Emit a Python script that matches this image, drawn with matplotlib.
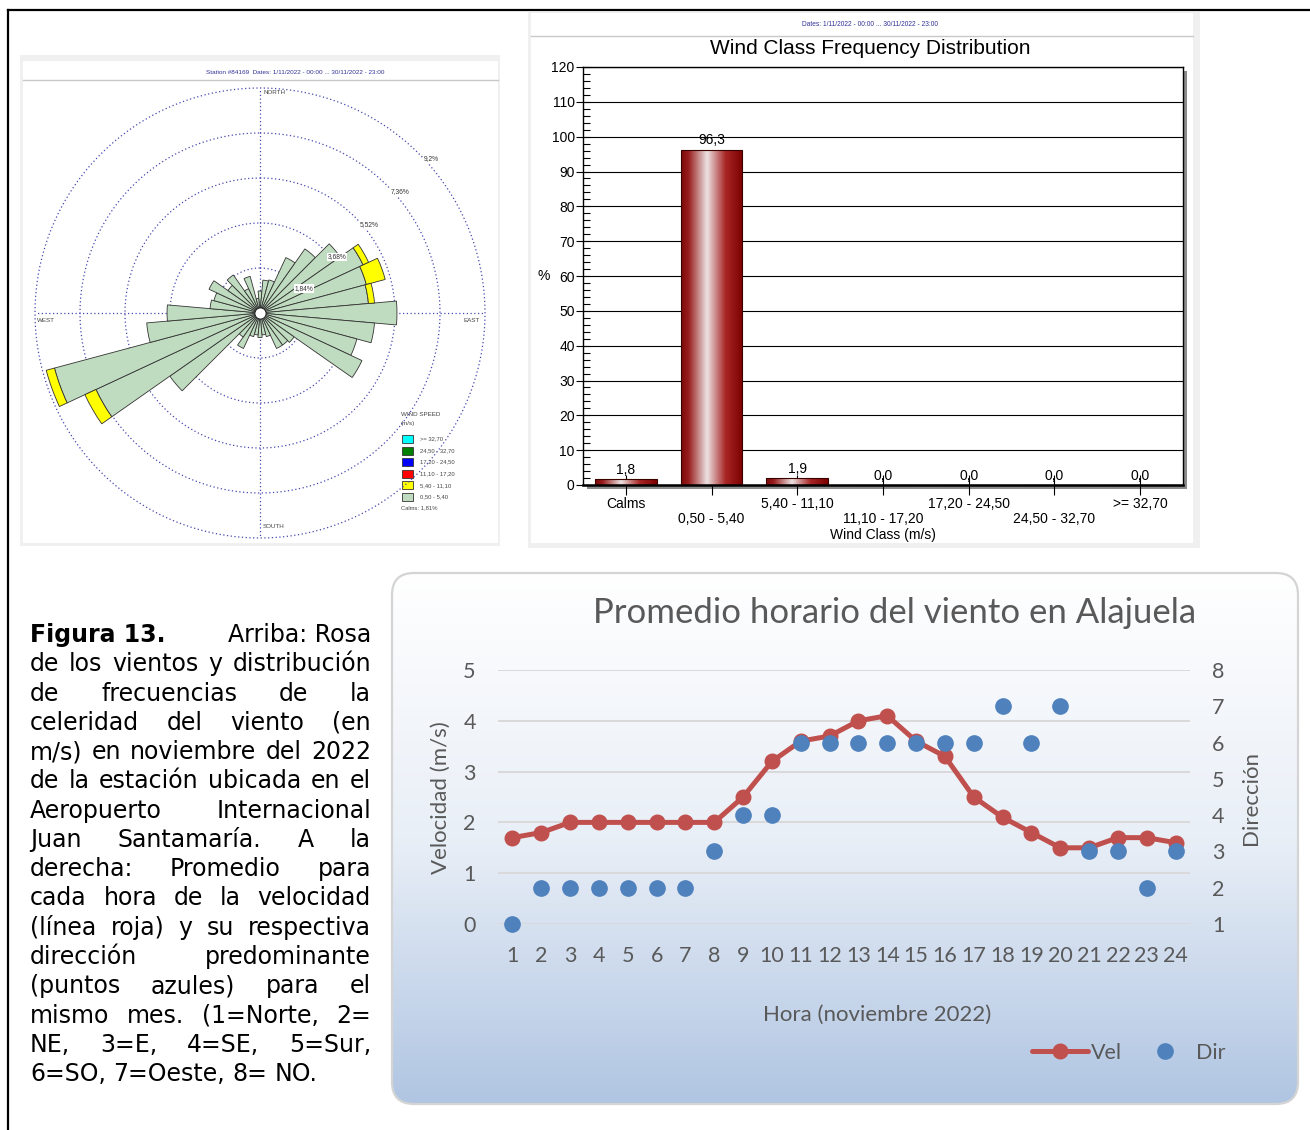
import numpy as np
import matplotlib
matplotlib.use("Agg")
import matplotlib.pyplot as plt
from matplotlib.patches import Rectangle, FancyBboxPatch
from matplotlib.colors import LinearSegmentedColormap
from matplotlib.ticker import MultipleLocator

# ---------------- data ----------------
# wind rose (percent of time per 10-degree sector)
rose_dir = np.arange(0, 360, 10)
rose_low = [0.9, 1.35, 1.4, 2.5, 3.2, 4.0, 4.65, 4.5, 4.45, 5.6, 4.7, 4.1,
            4.6, 1.7, 1.6, 1.6, 1.0, 0.9, 1.0, 0.9, 1.0, 1.6, 1.2, 4.5,
            7.4, 8.7, 4.65, 3.8, 2.05, 1.95, 2.3, 1.6, 1.9, 1.1, 1.55, 0.6]
rose_mid = [0, 0, 0, 0, 0, 0, 0.25, 0.8, 0.25, 0, 0, 0,
            0, 0, 0, 0, 0, 0, 0, 0, 0, 0, 0, 0,
            0.5, 0.35, 0, 0, 0, 0, 0, 0, 0, 0, 0, 0]
rose_rings = [1.84, 3.68, 5.52, 7.36, 9.2]
speed_classes = [">= 32,70", "24,50 - 32,70", "17,20 - 24,50",
                 "11,10 - 17,20", "5,40 - 11,10", "0,50 - 5,40"]
speed_colors = ["#00ffff", "#008000", "#0000ff", "#ff0000", "#ffff00", "#c0dcc0"]
calms_pct = "1,81%"

# wind class frequency distribution
wind_classes = ["Calms", "0,50 - 5,40", "5,40 - 11,10", "11,10 - 17,20",
                "17,20 - 24,50", "24,50 - 32,70", ">= 32,70"]
class_freq = [1.8, 96.3, 1.9, 0.0, 0.0, 0.0, 0.0]

# hourly averages
hours = list(range(1, 25))
vel = [1.7, 1.8, 2.0, 2.0, 2.0, 2.0, 2.0, 2.0, 2.5, 3.2, 3.6, 3.7,
       4.0, 4.1, 3.6, 3.3, 2.5, 2.1, 1.8, 1.5, 1.5, 1.7, 1.7, 1.6]
direc = [1, 2, 2, 2, 2, 2, 2, 3, 4, 4, 6, 6,
         6, 6, 6, 6, 6, 7, 6, 7, 3, 3, 2, 3]

caption = [
    [("Figura 13.", "bold"), ("Arriba: Rosa", "normal")],
    "de los vientos y distribución",
    "de frecuencias de la",
    "celeridad del viento (en",
    "m/s) en noviembre del 2022",
    "de la estación ubicada en el",
    "Aeropuerto Internacional",
    "Juan Santamaría. A la",
    "derecha: Promedio para",
    "cada hora de la velocidad",
    "(línea roja) y su respectiva",
    "dirección predominante",
    "(puntos azules) para el",
    "mismo mes. (1=Norte, 2=",
    "NE, 3=E, 4=SE, 5=Sur,",
    "6=SO, 7=Oeste, 8= NO.",
]

# ---------------- figure ----------------
W, H = 1310, 1130
fig = plt.figure(figsize=(W / 100, H / 100), dpi=100, facecolor="white")
bg = fig.add_axes([0, 0, 1, 1], zorder=0)
bg.set_xlim(0, W)
bg.set_ylim(H, 0)
bg.axis("off")


def fax(x0, y0, x1, y1):
    return [x0 / W, 1 - y1 / H, (x1 - x0) / W, (y1 - y0) / H]


ARIAL = "Liberation Sans"
LATO = "Lato"

# outer frame
bg.plot([8, W], [10, 10], color="black", lw=1.6)
bg.plot([8, 8], [10, H], color="black", lw=1.6)

# ---------------- wind rose panel ----------------
bg.add_patch(Rectangle((20, 55), 480, 491, fc="#f0f0f0", ec="none"))
bg.add_patch(Rectangle((23, 61), 475, 482, fc="white", ec="none"))
bg.plot([23, 498], [80, 80], color="#c8c8c8", lw=1)
bg.text(295, 72, "Station #84169  Dates: 1/11/2022 - 00:00 ... 30/11/2022 - 23:00",
        fontsize=4.6, color="#333399", ha="center", va="center", family=ARIAL)
lab_kw = dict(fontsize=4.5, color="#444444", va="center", family=ARIAL)
bg.text(263, 93, "NORTH", ha="left", **lab_kw)
bg.text(263, 526, "SOUTH", ha="left", **lab_kw)
bg.text(37, 321, "WEST", ha="left", **lab_kw)
bg.text(464, 321, "EAST", ha="left", **lab_kw)

rax = fig.add_axes(fax(260 - 225, 313 - 225, 260 + 225, 313 + 225),
                   projection="polar", zorder=2)
rax.set_facecolor("none")
rax.set_theta_zero_location("N")
rax.set_theta_direction(-1)
rax.set_ylim(0, max(rose_rings))
rax.grid(False)
rax.set_xticks([])
rax.set_yticks([])
rax.spines["polar"].set_visible(False)
dot = dict(ls=(0, (1, 2)), color="#4848b0", lw=0.9, clip_on=False, zorder=1)
th = np.linspace(0, 2 * np.pi, 721)
for r in rose_rings:
    rax.plot(th, np.full_like(th, r), **dot)
for a in [0, 90, 180, 270]:
    rax.plot([np.deg2rad(a)] * 2, [0, max(rose_rings)], **dot)

theta = np.deg2rad(rose_dir)
wdt = np.deg2rad(10)
low = np.array(rose_low)
mid = np.array(rose_mid)
rax.bar(theta, low, width=wdt, bottom=0, color=speed_colors[5],
        edgecolor="#333333", lw=0.6, zorder=3)
m = mid > 0
rax.bar(theta[m], mid[m], width=wdt, bottom=low[m], color=speed_colors[4],
        edgecolor="#333333", lw=0.6, zorder=3)
rax.plot([0], [0], "o", ms=8, mfc="white", mec="#222222", mew=0.7, zorder=6)

ring_lab_ang = [61, 54, 51, 49, 48]
for r, a in zip(rose_rings, ring_lab_ang):
    rax.text(np.deg2rad(a), r + 0.22, str(r).replace(".", ",") + "%",
             fontsize=4.8, color="#333333", ha="center", va="center", family=ARIAL,
             zorder=7, bbox=dict(fc="white", ec="none", pad=0.6))

# rose legend
bg.text(401, 414, "WIND SPEED", fontsize=4.5, color="#444444", ha="left",
        va="center", family=ARIAL)
bg.text(401, 423, "(m/s)", fontsize=4.5, color="#444444", ha="left",
        va="center", family=ARIAL)
for i, (lab, col) in enumerate(zip(speed_classes, speed_colors)):
    yy = 439 + i * 11.6
    bg.add_patch(Rectangle((402, yy - 4), 11, 8, fc=col, ec="#333333", lw=0.6))
    bg.text(420, yy, lab, fontsize=4.2, color="#444444", ha="left", va="center",
            family=ARIAL)
bg.text(401, 508, "Calms: " + calms_pct, fontsize=4.2, color="#444444",
        ha="left", va="center", family=ARIAL)

# ---------------- wind class bar chart ----------------
bg.add_patch(Rectangle((528, 12), 672, 536, fc="#f0f0f0", ec="none"))
bg.add_patch(Rectangle((531, 13), 662, 530, fc="white", ec="none"))
bg.plot([531, 1193], [36, 36], color="#c8c8c8", lw=1)
bg.text(870, 24, "Dates: 1/11/2022 - 00:00 ... 30/11/2022 - 23:00",
        fontsize=4.8, color="#333399", ha="center", va="center", family=ARIAL)
bg.text(870, 49, "Wind Class Frequency Distribution", fontsize=15,
        color="black", ha="center", va="center", family=ARIAL)
bg.text(544, 276, "%", fontsize=10, ha="center", va="center", family=ARIAL)
bg.add_patch(Rectangle((587, 71), 600, 418, fc="#8c8c8c", ec="none"))

bax = fig.add_axes(fax(583, 67, 1183, 485), zorder=2)
bax.set_facecolor("white")
xs = np.arange(len(wind_classes))
bars = bax.bar(xs, class_freq, width=0.72, facecolor="none",
               edgecolor="#3a0000", lw=0.8, zorder=3)
gcmap = LinearSegmentedColormap.from_list(
    "cyl", [(0, "#7c0a0a"), (0.12, "#981c1c"), (0.42, "#ece2e2"),
            (0.72, "#a82626"), (1.0, "#7c0000")])
grad = np.linspace(0, 1, 256).reshape(1, -1)
for b in bars:
    if b.get_height() <= 0:
        continue
    x0, y0 = b.get_xy()
    im = bax.imshow(grad, extent=[x0, x0 + b.get_width(), y0, y0 + b.get_height()],
                    aspect="auto", cmap=gcmap, zorder=2, interpolation="bilinear")
    im.set_clip_path(b)
bax.set_xlim(-0.5, len(wind_classes) - 0.5)
bax.set_ylim(0, 120)
bax.set_axisbelow(True)
bax.yaxis.grid(True, which="major", color="black", lw=0.8)
for v, x in zip(class_freq, xs):
    bax.text(x, v + 0.6, f"{v:.1f}".replace(".", ","), ha="center", va="bottom",
             fontsize=10, family=ARIAL, zorder=5)
bax.set_yticks(range(0, 121, 10))
bax.yaxis.set_minor_locator(MultipleLocator(2))
bax.tick_params(axis="y", which="major", direction="inout", length=10, width=0.8,
                labelsize=10, pad=1)
bax.tick_params(axis="y", which="minor", direction="in", length=5, width=0.8)
bax.set_xticks(xs)
bax.set_xticklabels([("" if i % 2 == 0 else "\n") + c for i, c in enumerate(wind_classes)],
                    linespacing=1.05)
bax.tick_params(axis="x", direction="inout", length=14, width=0.8, labelsize=10, pad=2)
for t in bax.get_xticklabels() + bax.get_yticklabels():
    t.set_family(ARIAL)
bax.set_xlabel("Wind Class (m/s)", fontsize=10, family=ARIAL, labelpad=1.5)
for s in bax.spines.values():
    s.set_color("black")
    s.set_linewidth(1)
bax.spines["bottom"].set_linewidth(1.8)

# ---------------- hourly chart ----------------
box = FancyBboxPatch((392, 573), 906, 531, boxstyle="round,pad=0,rounding_size=22",
                     fc="none", ec="#d4d4d4", lw=1.6, zorder=3)
bg.add_patch(box)
tt = np.linspace(0, 1, 300)
c_top = np.array([255, 255, 255]) / 255
c_mid = np.array([233, 239, 247]) / 255
c_bot = np.array([176, 197, 226]) / 255
col = np.where(tt[:, None] < 0.5,
               c_top + (c_mid - c_top) * (tt[:, None] / 0.5),
               c_mid + (c_bot - c_mid) * ((tt[:, None] - 0.5) / 0.5))
gimg = np.repeat(col[:, None, :], 2, axis=1)
gim = bg.imshow(gimg, extent=[392, 1298, 1104, 573], aspect="auto", zorder=2,
                interpolation="bilinear")
gim.set_clip_path(box)
bg.set_xlim(0, W)
bg.set_ylim(H, 0)

GRAY = "#595959"
bg.text(895, 613, "Promedio horario del viento en Alajuela", fontsize=25,
        color=GRAY, ha="center", va="center", family=LATO, zorder=4)
bg.text(441, 798, "Velocidad (m/s)", fontsize=16, rotation=90, color=GRAY,
        ha="center", va="center", family=LATO, zorder=4)
bg.text(1251, 798, "Dirección", fontsize=16, rotation=90, color=GRAY,
        ha="center", va="center", family=LATO, zorder=4)
bg.text(877, 1015, "Hora (noviembre 2022)", fontsize=16, color=GRAY,
        ha="center", va="center", family=LATO, zorder=4)

cax = fig.add_axes(fax(498, 670, 1190, 924), zorder=3)
cax.set_facecolor("none")
vline, = cax.plot(hours, vel, color="#c0504d", lw=3.6, marker="o", ms=10.5,
                  zorder=3, clip_on=False, solid_capstyle="round")
cax.set_xlim(0.5, 24.5)
cax.set_ylim(0, 5)
cax.set_yticks(range(0, 6))
cax.set_xticks(hours)
cax.yaxis.grid(True, color="#d9d9d9", lw=1.4)
cax.set_axisbelow(True)
for s in cax.spines.values():
    s.set_visible(False)
cax.tick_params(length=0, labelsize=15.5, labelcolor=GRAY)
cax.tick_params(axis="y", pad=16)
cax.tick_params(axis="x", pad=16)

dax = cax.twinx()
dax.set_zorder(4)
dline, = dax.plot(hours, direc, ls="none", marker="o", ms=11, color="#4f81bd",
                  clip_on=False)
dax.set_ylim(1, 8)
dax.set_yticks(range(1, 9))
for s in dax.spines.values():
    s.set_visible(False)
dax.tick_params(length=0, labelsize=15.5, labelcolor=GRAY, pad=16)
for t in cax.get_xticklabels() + cax.get_yticklabels() + dax.get_yticklabels():
    t.set_family(LATO)

fig.legend(handles=[vline, dline], labels=["Vel", "Dir"], loc="center",
           bbox_to_anchor=(1129 / W, 1 - 1053 / H), ncol=2, frameon=False,
           prop=dict(family=LATO, size=15.5), labelcolor=GRAY, handlelength=2.6,
           handletextpad=0.15, columnspacing=0.7)

# ---------------- caption (justified) ----------------
renderer = fig.canvas.get_renderer()
cx0, cx1 = 30, 371
base0, dy = 642, 29.27
CAP_FS = 17
for i, line in enumerate(caption):
    if isinstance(line, str):
        toks = [(w, "normal") for w in line.split()]
    else:
        toks = line
    y = base0 + i * dy
    texts = [bg.text(0, y, w, fontsize=CAP_FS, fontweight=wt, family="DejaVu Sans",
                     ha="left", va="baseline", color="black", zorder=4)
             for w, wt in toks]
    widths = [t.get_window_extent(renderer).width for t in texts]
    last = i == len(caption) - 1
    if last or len(texts) == 1:
        sp = bg.text(0, 0, "a a", fontsize=CAP_FS, family="DejaVu Sans")
        sp2 = bg.text(0, 0, "aa", fontsize=CAP_FS, family="DejaVu Sans")
        gap = sp.get_window_extent(renderer).width - sp2.get_window_extent(renderer).width
        sp.remove()
        sp2.remove()
    else:
        gap = (cx1 - cx0 - sum(widths)) / (len(texts) - 1)
    x = cx0
    for t, w in zip(texts, widths):
        t.set_x(x)
        x += w + gap

fig.savefig("out.png", dpi=100, facecolor="white")
